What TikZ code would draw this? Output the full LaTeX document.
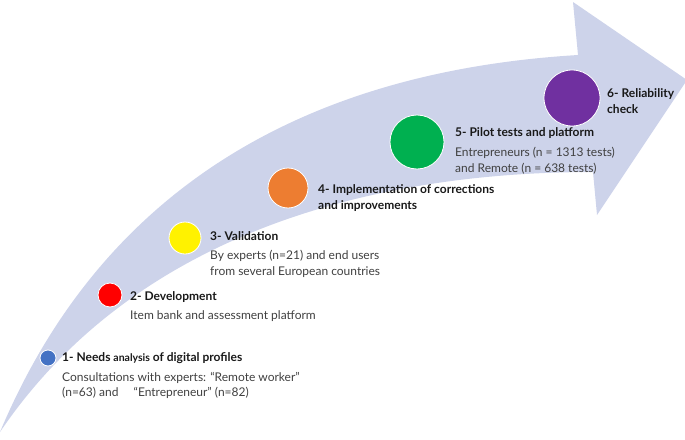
\documentclass[tikz,border=0pt]{standalone}
\usepackage{fontspec}
\setmainfont{Lato}
\definecolor{arr}{RGB}{205,211,234}
\definecolor{cb}{RGB}{68,114,196}
\definecolor{cg}{RGB}{0,176,80}
\definecolor{co}{RGB}{237,125,49}
\definecolor{cp}{RGB}{112,48,160}
\definecolor{tx}{RGB}{64,64,64}
\begin{document}
\begin{tikzpicture}[x=1pt,y=-1pt,
  dot/.style={circle,draw=white,line width=0.8pt,inner sep=0pt},
  ttl/.style={anchor=west,font=\bfseries\fontsize{12}{16}\selectfont,align=left,inner sep=0pt,text=black!90},
  sub/.style={anchor=north west,font=\fontsize{12}{15.5}\selectfont,align=left,inner sep=0pt,text=tx}]
\useasboundingbox (0,0) rectangle (685,439);
\fill[arr]
  (0,432) .. controls (110,170) and (330,70) .. (578,55) -- (573,2) -- (687,80) -- (597,215) -- (593,172)
  .. controls (360,172) and (130,240) .. (0,432) -- cycle;
\node[dot,fill=cb,minimum size=16pt] (c1) at (48,358) {};
\node[dot,fill=red,minimum size=24pt] (c2) at (110,295) {};
\node[dot,fill=yellow,minimum size=32pt] (c3) at (185,238) {};
\node[dot,fill=co,minimum size=40pt] (c4) at (288,188) {};
\node[dot,fill=cg,minimum size=54pt] (c5) at (417,142) {};
\node[dot,fill=cp,minimum size=56pt] (c6) at (572,98) {};
\node[ttl] (t1) at (62,358) {1- Needs {\fontsize{10.5}{12}\selectfont analysis} of digital profiles};
\node[sub] (s1) at (62,372) {Consultations with experts: “Remote worker”\\(n=63) and \quad “Entrepreneur” (n=82)};
\node[ttl] (t2) at (130,297) {2- Development};
\node[sub] (s2) at (130,310) {Item bank and assessment platform};
\node[ttl] (t3) at (210,236) {3- Validation};
\node[sub] (s3) at (210,250) {By experts (n=21) and end users\\from several European countries};
\node[ttl,align=left] (t4) at (318,198) {4- Implementation of corrections\\and improvements};
\node[ttl] (t5) at (455,133) {5- Pilot tests and platform};
\node[sub] (s5) at (455,147) {Entrepreneurs (n = 1313 tests)\\and Remote (n = 638 tests)};
\node[ttl] (t6) at (607,101) {6- Reliability\\check};
\end{tikzpicture}
\end{document}
